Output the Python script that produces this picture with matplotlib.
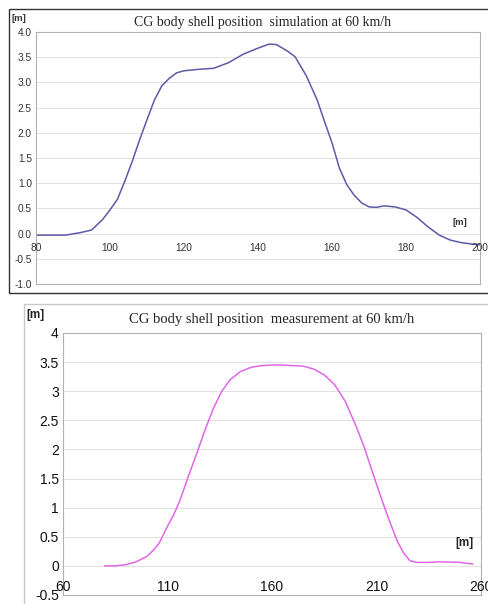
import matplotlib
matplotlib.use("Agg")
import matplotlib.pyplot as plt
from matplotlib.patches import Rectangle

# simulation run (top panel)
sim_x = [80, 88, 92, 95, 98, 100, 102, 104, 106, 108, 110, 112, 114, 116, 118, 120,
         124, 128, 132, 136, 140, 143, 145, 148, 150, 153, 156, 158, 160, 162, 164,
         166, 168, 170, 172, 174, 177, 180, 183, 186, 189, 192, 195, 198, 200]
sim_y = [-0.03, -0.03, 0.02, 0.07, 0.28, 0.47, 0.68, 1.04, 1.43, 1.86, 2.26, 2.65,
         2.93, 3.08, 3.19, 3.23, 3.26, 3.28, 3.39, 3.56, 3.68, 3.76, 3.75, 3.62,
         3.51, 3.14, 2.65, 2.22, 1.80, 1.30, 0.97, 0.76, 0.61, 0.53, 0.52, 0.55,
         0.53, 0.47, 0.32, 0.13, -0.03, -0.13, -0.18, -0.21, -0.22]

# measurement (bottom panel)
mea_x = [80, 85, 90, 95, 100, 103, 106, 110, 113, 116, 120, 124, 128, 132, 136, 140,
         145, 150, 155, 160, 165, 170, 175, 180, 185, 190, 195, 200, 204, 208, 212,
         216, 220, 223, 226, 229, 235, 240, 250, 256]
mea_y = [0.0, 0.0, 0.02, 0.07, 0.16, 0.26, 0.39, 0.68, 0.88, 1.13, 1.54, 1.93, 2.34,
         2.71, 3.0, 3.20, 3.34, 3.41, 3.44, 3.45, 3.45, 3.44, 3.43, 3.38, 3.28, 3.11,
         2.83, 2.42, 2.05, 1.62, 1.19, 0.79, 0.42, 0.22, 0.09, 0.06, 0.06, 0.07,
         0.06, 0.03]

top_yticks = [-1.0, -0.5, 0.0, 0.5, 1.0, 1.5, 2.0, 2.5, 3.0, 3.5, 4.0]
top_xticks = [80, 100, 120, 140, 160, 180, 200]
bot_yticks = [-0.5, 0, 0.5, 1, 1.5, 2, 2.5, 3, 3.5, 4]
bot_xticks = [60, 110, 160, 210, 260]

SANS = "Liberation Sans"
SERIF = "Liberation Serif"

fig = plt.figure(figsize=(4.88, 6.04), dpi=100)

# frames round the two panels
fig.patches.append(Rectangle((9 / 488, 1 - 293 / 604), 1.1, 284 / 604,
                             transform=fig.transFigure, fill=False,
                             edgecolor="#333333", linewidth=1.0))
fig.patches.append(Rectangle((24 / 488, -0.1), 1.1, 1 - 304 / 604 + 0.1,
                             transform=fig.transFigure, fill=False,
                             edgecolor="#c8c8c8", linewidth=1.0))


def setup(ax, xlim, ylim, yticks, xticks, ylabels, fs, tcol, xoff):
    ax.set_xlim(*xlim)
    ax.set_ylim(*ylim)
    for s in ax.spines.values():
        s.set_color("#b0b0b0")
        s.set_linewidth(0.8)
    ax.set_yticks(yticks)
    ax.set_yticklabels(ylabels, fontsize=fs, family=SANS, color=tcol)
    ax.tick_params(axis="y", length=0, pad=3)
    ax.grid(True, axis="y", color="#e2e2e2", linewidth=0.7)
    ax.set_xticks([])
    # x labels sit just under the zero line, as in the original
    for t in xticks:
        ax.text(t, xoff, str(t), ha="center", va="center", fontsize=fs,
                family=SANS, color=tcol, clip_on=False)
    ax.set_axisbelow(True)


# ---- top: simulation
ax1 = fig.add_axes([36 / 488, 1 - 284 / 604, 444 / 488, 252 / 604])
setup(ax1, (80, 200), (-1.0, 4.0), top_yticks, top_xticks,
      ["%.1f" % v for v in top_yticks], 7.3, "#333333", -0.28)
ax1.plot(sim_x, sim_y, color="#5a5aa8", linewidth=1.1)
ax1.text(0.51, 1.036, "CG body shell position  simulation at 60 km/h",
         transform=ax1.transAxes, ha="center", va="center", fontsize=10,
         family=SERIF, color="#222222")
ax1.text(-0.055, 1.052, "[m]", transform=ax1.transAxes, ha="left", va="center",
         fontsize=6.8, family=SANS, weight="bold", color="#333333")
ax1.text(0.955, 0.245, "[m]", transform=ax1.transAxes, ha="center", va="center",
         fontsize=6.8, family=SANS, weight="bold", color="#333333")

# ---- bottom: measurement
ax2 = fig.add_axes([63 / 488, 1 - 595 / 604, 418 / 488, 262 / 604])
setup(ax2, (60, 260), (-0.5, 4.0), bot_yticks, bot_xticks,
      ["%g" % v for v in bot_yticks], 10, "#111111", -0.36)
ax2.plot(mea_x, mea_y, color="#e066e6", linewidth=1.1)
ax2.text(0.5, 1.05, "CG body shell position  measurement at 60 km/h",
         transform=ax2.transAxes, ha="center", va="center", fontsize=10.5,
         family=SERIF, color="#222222")
ax2.text(-0.065, 1.045, "[m]", transform=ax2.transAxes, ha="center", va="bottom",
         fontsize=8.5, family=SANS, weight="bold", color="#222222")
ax2.text(0.96, 0.2, "[m]", transform=ax2.transAxes, ha="center", va="center",
         fontsize=8.5, family=SANS, weight="bold", color="#222222")

fig.savefig("out.png", dpi=100)
